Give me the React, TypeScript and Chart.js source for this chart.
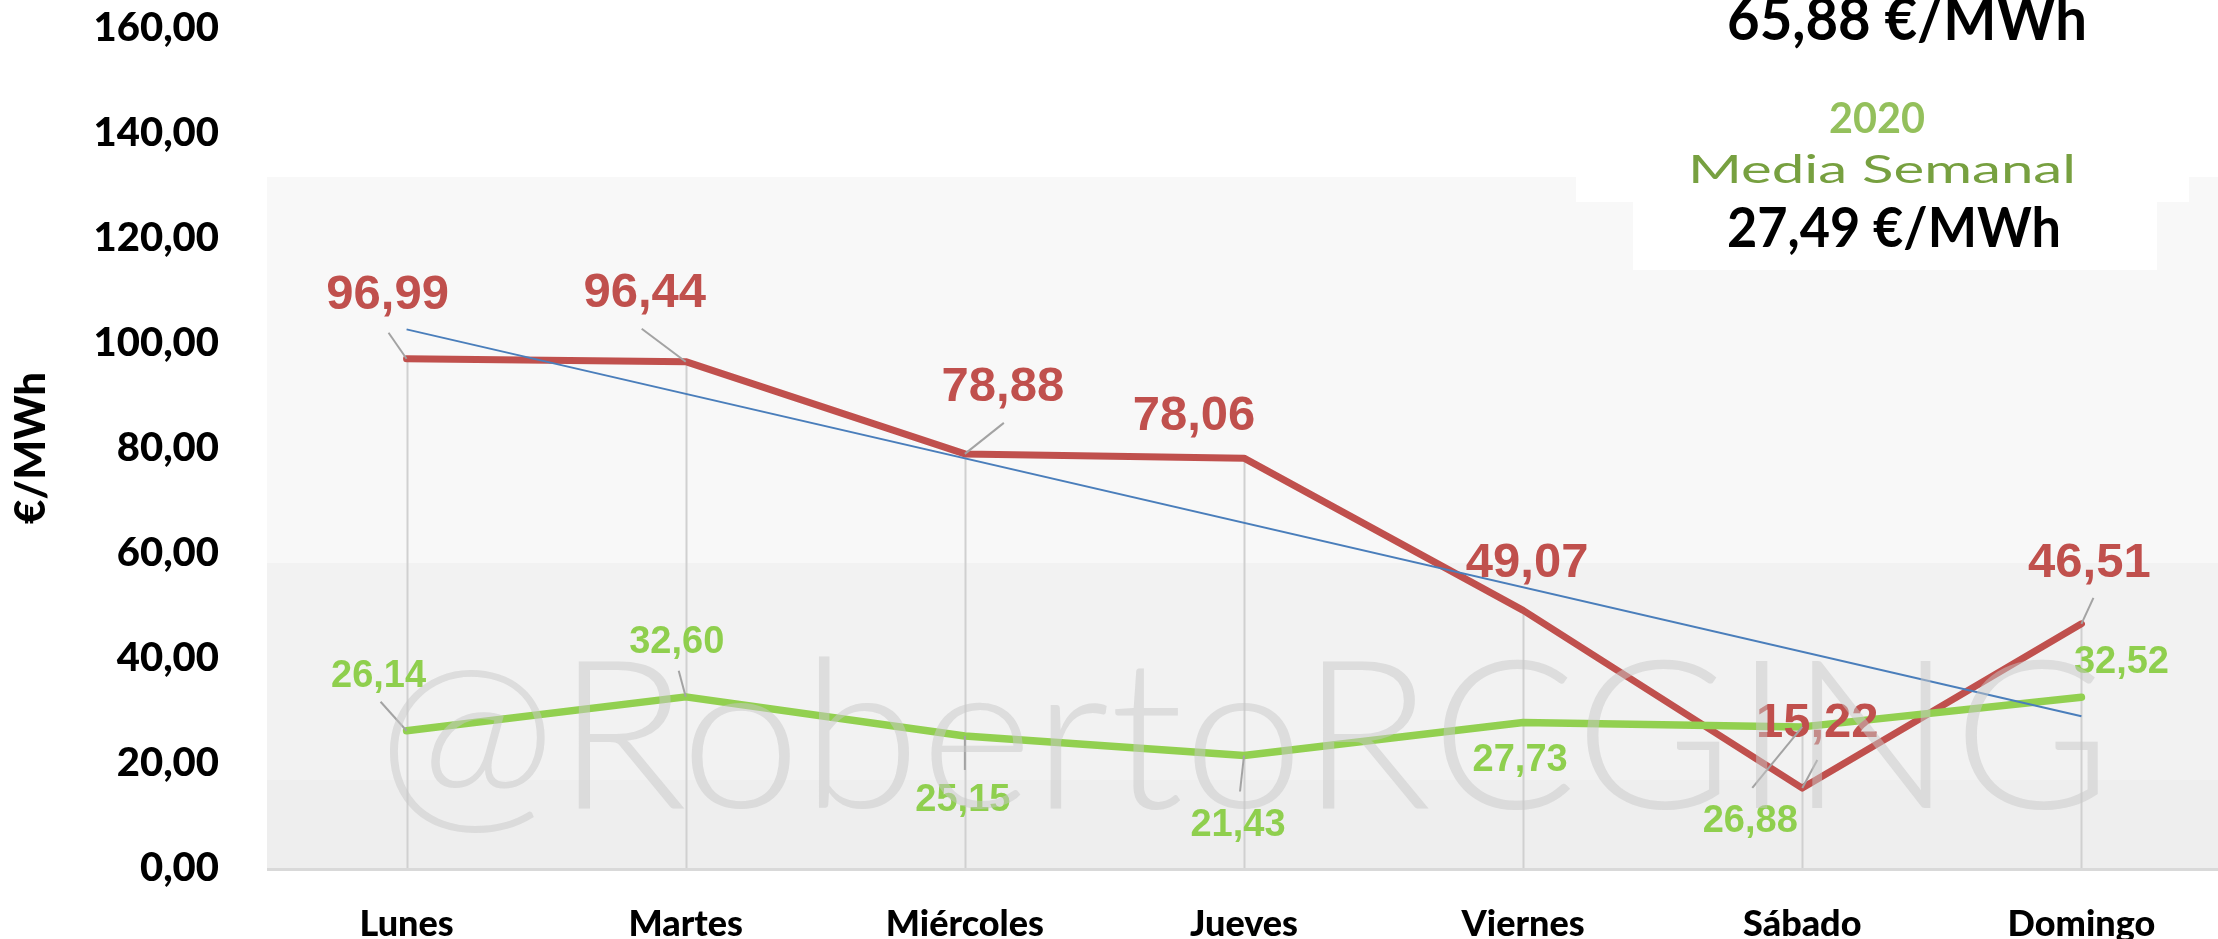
import React, { useEffect, useRef } from 'react';
import { Chart, registerables } from 'chart.js';

Chart.register(...registerables);

// ---- data ----
const days = ['Lunes', 'Martes', 'Miércoles', 'Jueves', 'Viernes', 'Sábado', 'Domingo'];
const pricesCurrent = [96.99, 96.44, 78.88, 78.06, 49.07, 15.22, 46.51];
const prices2020 = [26.14, 32.6, 25.15, 21.43, 27.73, 26.88, 32.52];
const trendCurrent = [102.6, null, null, null, null, null, 28.9];
const yTicks = [0, 20, 40, 60, 80, 100, 120, 140, 160];
const avgCurrentText = '65,88 €/MWh';
const yearText = '2020';
const avgTitleText = 'Media Semanal';
const avg2020Text = '27,49 €/MWh';
const yTitle = '€/MWh';
const watermarkText = '@RobertoRCGING';

// ---- styles (label offsets in px relative to point) ----
const redOffsets = [[-19, -63], [-41, -68], [38, -66], [-50, -42], [4, -47], [15, -65], [8, -60]];
const redLeaders = [[-18, -26], [-44, -33], [39, -31], null, null, [15, -28], [12, -26]];
const greenOffsets = [[-28, -54], [-9, -54], [-2, 65], [-6, 70], [-3, 38], [-52, 95], [40, -35]];
const greenLeaders = [[-26, -29], [-7, -26], [0, 34], [-4, 36], null, [-50, 61], null];

const RED = '#c0504d';
const GREEN = '#92d050';
const BLUE = '#4a7ebb';

const fmt = (v: number) => v.toFixed(2).replace('.', ',');

function fitText(ctx: CanvasRenderingContext2D, text: string, left: number, baseline: number, width: number) {
  const w = ctx.measureText(text).width;
  ctx.save();
  ctx.translate(left, baseline);
  ctx.scale(width / w, 1);
  ctx.textAlign = 'left';
  ctx.textBaseline = 'alphabetic';
  ctx.fillText(text, 0, 0);
  ctx.restore();
}

const bgPlugin = {
  id: 'bgPlugin',
  beforeDraw(chart: any) {
    const { ctx, chartArea } = chart;
    const W = chart.width;
    ctx.save();
    ctx.fillStyle = '#ffffff';
    ctx.fillRect(0, 0, W, chart.height);
    const l = chartArea.left;
    const b = chartArea.bottom;
    ctx.fillStyle = '#f8f8f8';
    ctx.fillRect(l, 177, W - l, 563 - 177);
    ctx.fillStyle = '#f2f2f2';
    ctx.fillRect(l, 563, W - l, 780 - 563);
    ctx.fillStyle = '#eeeeee';
    ctx.fillRect(l, 780, W - l, b - 780);
    // white box behind the averages
    ctx.fillStyle = '#ffffff';
    ctx.fillRect(1576, 177, 2189 - 1576, 25);
    ctx.fillRect(1633, 177, 2157 - 1633, 270 - 177);
    // axis line
    ctx.fillStyle = '#d9d9d9';
    ctx.fillRect(l, b, W - l, 3);
    ctx.restore();
  },
  beforeDatasetsDraw(chart: any) {
    const { ctx, chartArea } = chart;
    const xs = chart.scales.x;
    const ys = chart.scales.y;
    ctx.save();
    ctx.strokeStyle = '#d0d0d0';
    ctx.lineWidth = 2;
    days.forEach((_, i) => {
      const px = Math.round(xs.getPixelForValue(i)) + 0.5;
      const top = ys.getPixelForValue(Math.max(pricesCurrent[i], prices2020[i]));
      ctx.beginPath();
      ctx.moveTo(px, top);
      ctx.lineTo(px, chartArea.bottom);
      ctx.stroke();
    });
    ctx.restore();
  },
};

const labelPlugin = {
  id: 'labelPlugin',
  afterDatasetsDraw(chart: any) {
    const { ctx } = chart;
    const xs = chart.scales.x;
    const ys = chart.scales.y;
    const draw = (values: number[], offsets: number[][], leaders: (number[] | null)[], color: string, size: number) => {
      values.forEach((v, i) => {
        const px = xs.getPixelForValue(i);
        const py = ys.getPixelForValue(v);
        const ld = leaders[i];
        if (ld) {
          ctx.save();
          ctx.strokeStyle = '#a3a3a3';
          ctx.lineWidth = 2;
          ctx.beginPath();
          ctx.moveTo(px + ld[0], py + ld[1]);
          ctx.lineTo(px, py);
          ctx.stroke();
          ctx.restore();
        }
      });
      values.forEach((v, i) => {
        const px = xs.getPixelForValue(i);
        const py = ys.getPixelForValue(v);
        const [dx, dy] = offsets[i];
        ctx.save();
        ctx.fillStyle = color;
        ctx.font = `bold ${size}px "Liberation Sans", Arial, sans-serif`;
        ctx.textAlign = 'center';
        ctx.textBaseline = 'middle';
        ctx.fillText(fmt(v), px + dx, py + dy);
        ctx.restore();
      });
    };
    draw(pricesCurrent, redOffsets, redLeaders, RED, 49);
    draw(prices2020, greenOffsets, greenLeaders, '#8fcf4e', 38);
  },
  afterDraw(chart: any) {
    const { ctx } = chart;
    ctx.save();
    // watermark
    ctx.fillStyle = 'rgba(200,200,200,0.5)';
    ctx.font = '300 208px Lato, "DejaVu Sans", sans-serif';
    fitText(ctx, watermarkText, 377, 808, 1735);
    // averages
    ctx.fillStyle = '#000000';
    ctx.font = 'bold 60px Lato, "Liberation Sans", sans-serif';
    fitText(ctx, avgCurrentText, 1727, 40, 360);
    ctx.fillStyle = '#94c05c';
    ctx.font = 'bold 42px Lato, "Liberation Sans", sans-serif';
    fitText(ctx, yearText, 1829, 133, 96);
    ctx.fillStyle = '#77a040';
    ctx.font = '400 39px Lato, "DejaVu Sans", sans-serif';
    fitText(ctx, avgTitleText, 1688, 183, 388);
    ctx.fillStyle = '#000000';
    ctx.font = 'bold 55px Lato, "Liberation Sans", sans-serif';
    fitText(ctx, avg2020Text, 1727, 247, 334);
    ctx.restore();
  },
};

export default function App() {
  const ref = useRef<HTMLCanvasElement>(null);
  useEffect(() => {
    const canvas = ref.current;
    if (!canvas) return;
    const chart = new Chart(canvas, {
      type: 'line',
      data: {
        labels: days,
        datasets: [
          {
            label: 'Tendencia',
            data: trendCurrent as any,
            borderColor: BLUE,
            borderWidth: 2,
            pointRadius: 0,
            spanGaps: true,
            fill: false,
            order: 0,
          },
          {
            label: '2020',
            data: prices2020,
            borderColor: GREEN,
            borderWidth: 7.5,
            pointRadius: 0,
            fill: false,
            borderJoinStyle: 'round',
            borderCapStyle: 'round',
            order: 1,
          },
          {
            label: 'Precio diario',
            data: pricesCurrent,
            borderColor: RED,
            borderWidth: 7,
            pointRadius: 0,
            fill: false,
            borderJoinStyle: 'round',
            borderCapStyle: 'round',
            order: 2,
          },
        ],
      },
      options: {
        animation: false,
        responsive: false,
        devicePixelRatio: 1,
        layout: { padding: { top: 28, left: 0, right: 0, bottom: 0 } },
        plugins: { legend: { display: false }, tooltip: { enabled: false } },
        scales: {
          x: {
            type: 'category',
            offset: true,
            grid: { display: false },
            border: { display: false },
            ticks: {
              color: '#000',
              font: { family: 'Lato', weight: '900', size: 36 },
              padding: 27,
              maxRotation: 0,
              autoSkip: false,
            },
            afterFit: (s: any) => {
              s.height = 71;
              s.paddingLeft = 0;
              s.paddingRight = 0;
            },
          },
          y: {
            min: 0,
            max: 160,
            grid: { display: false },
            border: { display: false },
            afterBuildTicks: (s: any) => {
              s.ticks = yTicks.map((v) => ({ value: v }));
            },
            ticks: {
              color: '#000',
              font: { family: 'Lato', weight: '900', size: 40 },
              padding: 40,
              callback: (v: any) => fmt(Number(v)),
            },
            title: {
              display: true,
              text: yTitle,
              color: '#000',
              font: { family: 'Lato', weight: '900', size: 42 },
              padding: { top: 6, bottom: 0 },
            },
            afterFit: (s: any) => {
              s.width = 267;
              s.paddingTop = 0;
              s.paddingBottom = 0;
            },
          },
        },
      },
      plugins: [bgPlugin, labelPlugin],
    });
    return () => chart.destroy();
  }, []);
  return (
    <div style={{ position: 'fixed', left: 0, top: 0, width: 2218, height: 939, overflow: 'hidden', background: '#fff' }}>
      <canvas ref={ref} width={2221} height={939} style={{ display: 'block', width: 2221, height: 939 }} />
    </div>
  );
}
